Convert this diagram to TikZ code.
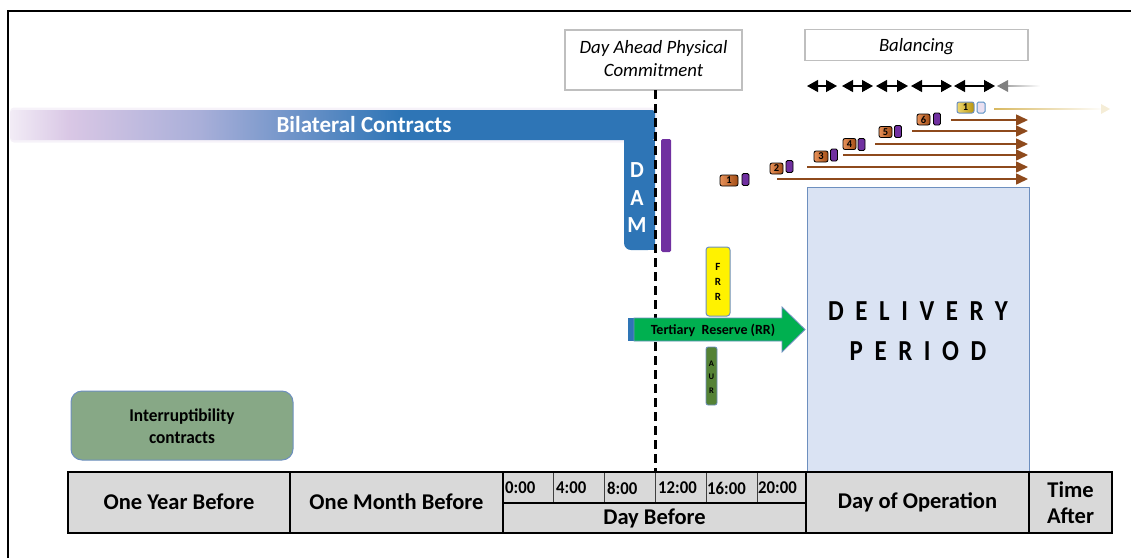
\documentclass[tikz,border=0pt]{standalone}
\usepackage{fontspec}
\setmainfont{Carlito}
\usetikzlibrary{arrows.meta}
\definecolor{bblue}{HTML}{2E75B6}
\definecolor{dpurple}{HTML}{7030A0}
\definecolor{brownA}{HTML}{8E4A1C}
\definecolor{rrG}{HTML}{00B050}
\definecolor{aurG}{HTML}{548235}
\definecolor{dpFill}{HTML}{DAE3F3}
\definecolor{dpLine}{HTML}{6D8FBF}
\definecolor{intG}{HTML}{87A886}
\definecolor{tblG}{HTML}{D9D9D9}
\definecolor{lav0}{HTML}{F2ECF6}
\definecolor{lav1}{HTML}{D9C7E5}
\definecolor{lav2}{HTML}{A9AFD9}
\definecolor{boxGray}{HTML}{BFBFBF}
\definecolor{orL}{HTML}{E8925A}
\definecolor{orD}{HTML}{A24C14}
\definecolor{goL}{HTML}{EED870}
\definecolor{goD}{HTML}{B8940C}
\definecolor{goLine}{HTML}{D8B860}
\pgfdeclarehorizontalshading{bilat}{100bp}{color(0bp)=(lav0); color(25bp)=(lav0); color(29.6bp)=(lav1); color(39.7bp)=(lav2); color(55.2bp)=(bblue); color(100bp)=(bblue)}
\tikzset{
  mainlbl/.style={font=\bfseries\fontsize{22.5}{26}\selectfont, align=center, inner sep=0pt},
  timelbl/.style={font=\bfseries\fontsize{18}{18}\selectfont\addfontfeature{FakeStretch=0.93}, anchor=west, inner sep=0pt},
  itlbl/.style={font=\itshape\fontsize{18.8}{23}\selectfont, align=center, inner sep=0pt},
  nbox/.style={draw=black, line width=0.8pt, rounded corners=2pt, left color=orL, right color=orD, inner sep=0pt, font=\bfseries\fontsize{10.5}{10}\selectfont},
  pbox/.style={draw=black, line width=0.8pt, rounded corners=1.5pt, fill=dpurple, inner sep=0pt, minimum width=7pt, minimum height=12pt},
  brarrow/.style={draw=brownA, line width=1.5pt, -{Triangle[length=12pt,width=11pt]}},
  dbl/.style={line width=1.3pt, {Triangle[length=11pt,width=12pt]}-{Triangle[length=11pt,width=12pt]}},
  cellline/.style={line width=1pt, draw=black!75},
  thickline/.style={line width=2pt, draw=black}
}
\begin{document}
\begin{tikzpicture}[x=1pt,y=-1pt]
\useasboundingbox (0,0) rectangle (1131,558);
% frame
\draw[line width=2pt] (8,558) -- (8,11) -- (1131,11);

% Day Ahead Physical Commitment box
\node[draw=boxGray, line width=1.3pt, fill=white, minimum width=177pt, minimum height=60pt, inner sep=0pt] (dapc) at (653.5,60) {};
\node[itlbl] (dapct) at (653.5,59) {Day Ahead Physical\\Commitment};

% Balancing box
\node[draw=boxGray, line width=1.3pt, fill=white, minimum width=223pt, minimum height=31pt, inner sep=0pt] (bal) at (916.5,45) {};
\node[itlbl] (balt) at (916.5,46.5) {Balancing};

% balancing double arrows
\foreach \a/\b [count=\i] in {807/837, 842/873, 876/908, 911/952, 954/995}{
  \coordinate (da\i) at (\a,86);
  \coordinate (db\i) at (\b,86);
  \draw[dbl] (da\i) -- (db\i);
}
\coordinate (ga) at (997,86);
\coordinate (gb) at (1040,86);
\shade[left color=gray!70, right color=white] (1006,85.2) rectangle (gb |- 0,86.8);
\fill[gray] (ga) -- ++(11,-6) -- ++(0,12) -- cycle;

% bilateral contracts bar
\fill[lav0!70, rounded corners=4pt] (10,107.5) rectangle (657,142.5);
\shade[shading=bilat, rounded corners=3pt] (10,110) rectangle (655,140);
\node[font=\bfseries\fontsize{23}{25}\selectfont, text=white, inner sep=0pt] (bc) at (364,125) {Bilateral Contracts};

% DAM
\fill[bblue, rounded corners=7pt] (624,140) rectangle (655,250);
\fill[bblue] (640,140) rectangle (655,250);
\fill[bblue] (624,140) rectangle (640,150);
\node[font=\bfseries\fontsize{23}{27.5}\selectfont\addfontfeature{FakeStretch=0.95}, text=white, align=center, inner sep=0pt] (dam) at (637,198) {D\\A\\M};

% purple bar
\fill[dpurple, rounded corners=1.5pt] (661,139) rectangle (671,252);

% dashed line
\coordinate (dtop) at (655,90);
\coordinate (dbot) at (655,471);
\draw[line width=3pt, dash pattern=on 9pt off 5pt] (dtop) -- (dbot);

% FRR
\node[draw=dpLine, line width=1pt, fill=yellow, rounded corners=3pt, minimum width=24pt, minimum height=69pt, inner sep=0pt] (frr) at (718,281.5) {};
\node[font=\bfseries\fontsize{11}{15}\selectfont, align=center, inner sep=0pt] (frrt) at (718,282) {F\\R\\R};

% Tertiary reserve arrow
\fill[bblue] (628,318) rectangle (635,341);
\draw[fill=rrG, draw=dpLine, line width=0.8pt] (634,318) -- (782,318) -- (782,307) -- (805,329.5) -- (782,352) -- (782,341) -- (634,341) -- cycle;
\node[font=\bfseries\fontsize{14}{15}\selectfont, inner sep=0pt] (rr) at (713,330.5) {Tertiary\ \ Reserve (RR)};

% AUR
\node[draw=dpLine, line width=0.8pt, fill=aurG, rounded corners=2pt, minimum width=11pt, minimum height=58pt, inner sep=0pt] (aur) at (711.5,376) {};
\node[font=\bfseries\fontsize{8.5}{13.5}\selectfont, align=center, inner sep=0pt] (aurt) at (711.5,377) {A\\U\\R};

% delivery period
\node[draw=dpLine, line width=1pt, fill=dpFill, minimum width=222pt, minimum height=285pt, inner sep=0pt] (dp) at (918,329.5) {};
\node[font=\bfseries\fontsize{29}{40}\selectfont\addfontfeature{FakeStretch=0.86,LetterSpace=40}, align=center, inner sep=0pt] (dpt) at (918,331) {DELIVERY\\PERIOD};

% number boxes and arrows
\foreach \i/\bx/\by/\bw/\px/\py/\sx/\ay in {
  1/729/180.5/18/745.5/179.5/777/179,
  2/776.5/168.5/13/789.5/166.5/807/167,
  3/821/156.5/14/834/155/843/155,
  4/849.5/144/13/861.5/144.5/875/144,
  5/885.5/132/13/898/131.5/912/131,
  6/923.5/119.5/13/937/119/951/120}{
  \node[nbox, minimum width=\bw pt, minimum height=11pt] (nb\i) at (\bx,\by) {\i};
  \node[pbox] (pb\i) at (\px,\py) {};
  \coordinate (as\i) at (\sx,\ay);
  \coordinate (ae\i) at (1028,\ay);
  \draw[brarrow] (as\i) -- (ae\i);
}
\node[draw=dpLine, line width=1pt, rounded corners=2pt, left color=goL, right color=goD, minimum width=17pt, minimum height=11pt, inner sep=0pt, font=\bfseries\fontsize{10.5}{10}\selectfont] (gb1) at (965.5,107.5) {1};
\node[draw=bblue!80, line width=1pt, rounded corners=1.5pt, fill=dpurple!15, minimum width=8pt, minimum height=11pt, inner sep=0pt] (lp1) at (981,107.5) {};
\coordinate (gs) at (994,109);
\coordinate (ge) at (1110,109);
\shade[left color=goLine, right color=white] (gs |- 0,108.3) rectangle (1104,109.7);
\fill[goLine!25] (ge) -- ++(-9,-5) -- ++(0,10) -- cycle;

% interruptibility contracts
\node[draw=dpLine, line width=1pt, fill=intG, rounded corners=11pt, minimum width=222pt, minimum height=69pt, inner sep=0pt] (ic) at (182,425.5) {};
\node[font=\bfseries\fontsize{18}{22}\selectfont\addfontfeature{FakeStretch=0.96}, align=center, inner sep=0pt] (ict) at (182,426) {Interruptibility\\contracts};

% table
\fill[tblG] (68,472) rectangle (1112,533);
\foreach \x/\n in {553/a, 604/b, 655/c, 706/d, 757/e}{
  \coordinate (tt\n) at (\x,472);
  \coordinate (tb\n) at (\x,503);
  \draw[cellline] (tt\n) -- (tb\n);
}
\coordinate (mda) at (503,503);
\coordinate (mdb) at (806,503);
\draw[thickline] (mda) -- (mdb);
\foreach \x/\n in {290/a, 503/b, 806/c, 1029/d}{
  \coordinate (vt\n) at (\x,472);
  \coordinate (vb\n) at (\x,533);
  \draw[line width=1.5pt] (vt\n) -- (vb\n);
}
\draw[thickline] (68,472) rectangle (1112,533);

\node[mainlbl] (oyb) at (179,502) {One Year Before};
\node[mainlbl] (omb) at (396.5,502) {One Month Before};
\node[mainlbl] (dbf) at (654.5,518) {Day Before};
\node[mainlbl] (doo) at (917.5,502) {Day of Operation};
\node[mainlbl] (ta) at (1070.5,503) {Time\\After};
\node[timelbl] (t0) at (505,488) {0:00};
\node[timelbl] (t4) at (556,488) {4:00};
\node[timelbl] (t8) at (607,488) {8:00};
\node[timelbl] (t12) at (658,488) {12:00};
\node[timelbl] (t16) at (707,488) {16:00};
\node[timelbl] (t20) at (758,488) {20:00};
\end{tikzpicture}
\end{document}
